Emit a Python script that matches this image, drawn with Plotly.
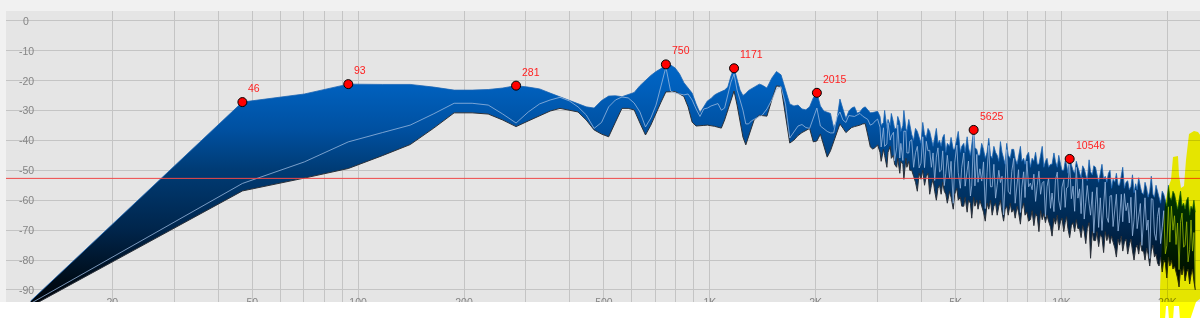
import numpy as np
import plotly.graph_objects as go

# ---------------- data ----------------
BIN_HZ = 48000 / 2048  # FFT bin width in Hz

# low / mid range: FFT bin numbers and the three curves (dB)
bins_lo = [0.5, 1, 2, 3, 4, 5, 6, 7, 8, 9, 10, 11, 12, 13, 14, 15, 16, 17, 18, 19, 20,
           21, 22, 23, 24, 25, 26, 27, 28, 29, 30, 31, 32, 33, 34, 35, 36, 37, 38, 39, 40,
           41, 42, 43, 44, 45, 46, 47, 48, 49, 50, 51, 52, 53, 54, 55, 56, 57, 58, 59, 60,
           62, 64, 66, 68, 70, 72, 74, 76, 78, 80, 82, 84, 86, 88, 90, 92, 94, 96, 98, 100,
           102, 104, 106, 108, 110, 112, 114, 116, 118, 120, 122, 124, 126, 128]
upper_lo = [-93.7, -60.4, -27.2, -24.5, -21.2, -21.3, -21.3, -22.2, -23.2, -23.2, -23.0,
            -22.5, -21.7, -22.2, -22.8, -24.2, -25.5, -26.5, -27.8, -28.8, -29.2,
            -26.7, -25.2, -25.1, -25.4, -24.8, -24.0, -21.7, -19.8, -18.3, -17.0,
            -16.0, -14.6, -14.8, -15.8, -17.8, -20.7, -22.3, -24.2, -27.8, -30.8,
            -28.8, -26.8, -26.0, -24.8, -24.2, -23.7, -23.2, -22.2, -18.5, -15.9,
            -19.8, -23.2, -25.0, -24.3, -23.3, -22.7, -22.2, -21.7, -21.2, -21.5,
            -22.5, -19.2, -17.0, -18.1, -23.2, -27.8, -28.5, -28.2, -29.5, -29.8,
            -28.8, -25.8, -24.1, -28.5, -30.2, -30.7, -31.0, -35.9, -33.2, -26.2,
            -29.8, -32.8, -30.2, -29.2, -28.8, -30.9, -30.5, -29.3, -28.8, -29.9,
            -30.8, -30.7, -30.5, -30.3]
lower_lo = [-95.5, -76.2, -56.9, -52.6, -49.4, -45.1, -41.4, -35.9, -30.8, -30.8, -31.2,
            -33.2, -35.4, -33.5, -31.9, -30.2, -29.3, -29.8, -30.5, -33.2, -36.5,
            -37.9, -38.8, -33.9, -29.3, -29.3, -29.8, -34.2, -38.2, -34.9, -30.8,
            -27.2, -23.8, -23.7, -23.7, -24.5, -25.3, -28.8, -33.9, -35.2, -35.0,
            -35.0, -34.9, -35.0, -35.3, -35.6, -35.9, -33.2, -29.8, -26.2, -23.5,
            -28.2, -34.2, -38.9, -41.5, -38.9, -35.7, -33.2, -32.4, -31.6, -31.7,
            -31.9, -26.5, -21.8, -22.0, -31.5, -40.9, -39.9, -38.4, -37.4, -36.7,
            -36.0, -40.5, -40.2, -37.9, -41.5, -45.6, -43.5, -40.5, -37.2, -34.5,
            -35.9, -37.4, -36.5, -35.7, -35.4, -35.2, -34.9, -34.5, -34.4, -38.2,
            -42.2, -42.9, -42.4, -41.5]
mid_lo = [-94.5, -74.4, -54.4, -47.2, -40.5, -37.4, -34.9, -31.1, -27.6, -27.6, -28.2,
          -31.2, -34.2, -30.5, -27.8, -26.5, -25.6, -26.8, -28.8, -31.5, -36.0,
          -34.0, -28.8, -26.5, -25.5, -25.8, -27.5, -30.5, -35.5, -32.5, -28.2,
          -21.8, -15.5, -23.5, -24.2, -24.5, -24.8, -24.5, -26.5, -29.5, -32.0,
          -29.5, -29.2, -28.5, -28.0, -27.7, -29.9, -29.2, -24.8, -20.5, -17.8,
          -23.2, -26.5, -29.9, -34.5, -34.5, -33.5, -32.9, -32.4, -32.0, -31.7,
          -29.5, -26.5, -22.8, -22.0, -27.8, -39.2, -37.2, -35.2, -34.7, -35.7,
          -36.0, -32.5, -29.2, -35.2, -36.2, -37.0, -37.5, -37.5, -32.2, -30.5,
          -33.2, -34.0, -31.7, -31.9, -32.0, -31.5, -31.0, -31.9, -32.5, -33.0,
          -34.9, -34.5, -33.5, -32.9]

# high range (dense part of the spectrum)
bins_hi = [130, 131, 133, 134, 136, 137, 139, 140, 142, 143,
           145, 146, 148, 149, 151, 152, 154, 155, 157, 158,
           160, 162, 164, 166, 168, 170, 172, 174, 176, 178,
           180, 182, 184, 186, 188, 190, 192, 194, 196, 198,
           200, 202, 205, 207, 210, 212, 215, 217, 220, 222,
           225, 227, 230, 232, 235, 237, 240, 242, 245, 247,
           250, 253, 256, 259, 262, 265, 268, 271, 274, 277,
           280, 283, 286, 289, 292, 295, 298, 301, 305, 308,
           312, 315, 319, 322, 326, 329, 333, 336, 340, 344,
           348, 352, 356, 360, 364, 368, 372, 376, 380, 384,
           388, 392, 397, 401, 406, 410, 415, 419, 424, 428,
           433, 437, 441, 445, 450, 455, 460, 465, 470, 475,
           480, 485, 490, 495, 500, 505, 511, 516, 522, 527,
           533, 538, 544, 550, 556, 562, 568, 574, 580, 586,
           592, 598, 605, 611, 618, 624, 631, 637, 644, 651,
           658, 665, 672, 679, 686, 693, 700, 707, 715, 722,
           730, 737, 745, 752, 760, 768, 776, 784, 792, 800,
           808, 816, 825, 833, 842, 850, 859, 867, 876, 885,
           894, 903, 912, 921, 930, 939, 949, 958, 968, 977,
           987, 996, 1006, 1015, 1024]
upper_hi = [-32, -35, -34, -30, -36, -33, -35, -31, -34, -36,
            -36, -32, -34, -37, -35, -30, -36, -37, -33, -35,
            -38, -40, -36, -37, -39, -41, -34, -38, -39, -36,
            -37, -40, -42, -39, -36, -41, -40, -42, -39, -38,
            -44, -41, -42, -39, -43, -43, -40, -37, -44, -42,
            -41, -44, -38.8, -42.5, -45, -42, -36.5, -42.5, -43, -45,
            -45, -41, -43, -46, -44, -39.3, -45, -46, -42, -44,
            -45, -47, -40.4, -44, -46, -48, -41, -45, -46, -43,
            -43, -46, -48, -45, -42, -47, -46, -48, -45, -44,
            -49, -46, -47, -44, -48, -48, -45, -42, -49, -47,
            -46, -49, -48, -48, -44.2, -47, -49, -45, -48, -50,
            -50, -47, -48, -51, -46.2, -48.5, -50, -51, -47, -49,
            -50.5, -52.5, -48.5, -49.5, -51.5, -53.5, -46.5, -50.5, -51.5, -48.5,
            -49, -52, -54, -51, -48, -53, -52, -54, -51, -50,
            -56, -53, -54, -51, -55, -55, -52, -49, -56, -54,
            -53.5, -56.5, -55.5, -51.5, -57.5, -54.5, -56.5, -52.5, -55.5, -57.5,
            -58, -54, -56, -59, -57, -52, -58, -59, -55, -57,
            -59, -61, -57, -58, -60, -62, -55, -59, -60, -57,
            -58, -61, -63, -60, -57, -62, -61, -63, -60, -59,
            -65, -62, -63, -60, -64]
lower_hi = [-44, -47, -43, -45, -49, -44, -42, -46, -45, -48,
            -49, -46, -51, -47, -48, -53, -46, -49, -47, -50,
            -50, -52, -54, -57, -51, -53, -50, -55, -52, -51,
            -58, -55, -53, -57, -60, -56, -55, -58, -54, -57,
            -58, -61, -57, -59, -63, -58, -56, -60, -59, -62,
            -62, -59, -64, -60, -61, -66, -59, -62, -60, -63,
            -60, -62, -64, -67, -61, -63, -60, -65, -62, -61,
            -65, -62, -60, -64, -67, -63, -62, -65, -61, -64,
            -63, -66, -62, -64, -68, -63, -61, -65, -64, -67,
            -66.5, -63.5, -68.5, -64.5, -65.5, -70.5, -63.5, -66.5, -64.5, -67.5,
            -65, -67, -69, -72, -66, -68, -65, -70, -67, -66,
            -70.5, -67.5, -65.5, -69.5, -72.5, -68.5, -67.5, -70.5, -66.5, -69.5,
            -69.5, -72.5, -68.5, -70.5, -74.5, -69.5, -67.5, -79.4, -70.5, -73.5,
            -73.5, -70.5, -75.5, -71.5, -72.5, -77.5, -70.5, -73.5, -71.5, -74.5,
            -72, -74, -76, -79, -73, -75, -72, -77, -74, -73,
            -78, -75, -73, -77, -80, -76, -75, -78, -74, -77,
            -77, -80, -76, -78, -82, -77, -75, -79, -78, -81,
            -82, -79, -84, -80, -81, -86, -79, -82, -80, -83,
            -82, -84, -86, -89, -83, -85, -82, -87, -84, -83,
            -88, -85, -83, -87, -90]
mid_hi = [-35.6, -42.2, -35.8, -42.0, -41.2, -34.1, -39.9, -38.5, -37.3, -46.8,
          -42.5, -34.8, -45.9, -41.0, -46.7, -36.9, -37.0, -44.2, -44.2, -40.3,
          -39.8, -49.0, -44.1, -42.0, -49.2, -47.6, -38.8, -49.1, -40.3, -43.5,
          -43.3, -49.0, -44.2, -53.4, -45.6, -42.5, -50.5, -50.0, -43.5, -55.1,
          -51.0, -45.0, -52.5, -47.0, -61.0, -47.5, -41.6, -50.8, -56.0, -49.0,
          -44.2, -55.3, -50.1, -46.9, -58.6, -55.2, -38.0, -55.2, -44.7, -54.0,
          -49.5, -53.6, -47.2, -62.8, -50.8, -41.7, -55.5, -55.5, -48.0, -59.3,
          -55.0, -50.0, -54.1, -52.0, -64.9, -52.5, -43.1, -57.0, -58.0, -50.4,
          -46.0, -61.0, -54.3, -49.8, -64.1, -55.8, -50.5, -59.1, -46.9, -55.5,
          -54.3, -56.5, -51.3, -60.4, -55.0, -50.3, -58.0, -54.3, -53.7, -65.5,
          -55.5, -52.6, -62.7, -57.6, -63.8, -53.3, -50.6, -60.0, -63.2, -55.6,
          -53.1, -62.4, -55.9, -55.6, -48.0, -59.5, -55.3, -63.7, -49.0, -59.3,
          -56.2, -64.5, -52.5, -66.3, -60.7, -55.1, -61.2, -65.0, -57.2, -71.0,
          -61.3, -55.7, -69.1, -59.2, -70.1, -60.4, -53.9, -65.7, -67.4, -58.6,
          -58.4, -68.8, -63.9, -58.0, -70.3, -66.0, -58.0, -67.2, -57.8, -63.5,
          -60.9, -67.6, -59.0, -71.9, -66.5, -56.7, -69.5, -65.3, -61.1, -75.1,
          -67.5, -59.2, -70.0, -66.6, -79.5, -59.5, -59.7, -71.0, -73.4, -65.4,
          -62.5, -74.5, -69.2, -63.5, -77.9, -75.2, -62.2, -74.0, -62.0, -70.0,
          -65.2, -74.8, -67.6, -83.2, -67.4, -64.3, -75.7, -75.0, -67.2, -80.6,
          -76.5, -66.6, -77.0, -70.8, -87.4]

# labelled peaks
peak_freq = [46.875, 93.75, 281.25, 750.0, 1171.875, 2015.625, 5625.0, 10546.875]
peak_db = [-27.2, -21.2, -21.7, -14.6, -15.9, -24.1, -36.5, -46.2]
peak_labels = ["46", "93", "281", "750", "1171", "2015", "5625", "10546"]

threshold_db = -52.7

# axes
y_ticks = [0, -10, -20, -30, -40, -50, -60, -70, -80, -90]
y_tick_labels = ["0", "-10", "-20", "-30", "-40", "-50", "-60", "-70", "-80", "-90"]
x_grid = [10, 20, 30, 40, 50, 60, 70, 80, 90, 100, 200, 300, 400, 500, 600, 700, 800, 900,
          1000, 2000, 3000, 4000, 5000, 6000, 7000, 8000, 9000, 10000, 20000]
x_labelled = {20: "20", 50: "50", 100: "100", 200: "200", 500: "500", 1000: "1K",
              2000: "2K", 5000: "5K", 10000: "10K", 20000: "20K"}

# ---------------- layout geometry ----------------
W, H = 1200, 318
ML, MT = 6, 11
PX_PER_DECADE = 351.7
PX_20HZ = 112.3
PX_PER_DB = 2.992
PX_0DB = 20.7
x0 = np.log10(20) - (PX_20HZ - ML) / PX_PER_DECADE
x1 = x0 + (W - ML) / PX_PER_DECADE
y_top = (PX_0DB - MT) / PX_PER_DB
y_bot = -(H - PX_0DB) / PX_PER_DB

FONT = "Liberation Sans, Arial, sans-serif"
GREY_TXT = "#858585"

freq = np.array(bins_lo + bins_hi, dtype=float) * BIN_HZ
upper = np.array(upper_lo + upper_hi)
lower = np.array(lower_lo + lower_hi)
mid = np.array(mid_lo + mid_hi)

fig = go.Figure()
fig.add_trace(go.Scatter(x=freq, y=lower, mode="lines",
                         line=dict(color="#2b3038", width=1),
                         hoverinfo="skip", showlegend=False))
fig.add_trace(go.Scatter(
    x=freq, y=upper, mode="lines", line=dict(color="#1b64b4", width=0.8),
    fill="tonexty",
    fillgradient=dict(type="vertical", start=-95, stop=-15,
                      colorscale=[[0.0, "#00040a"], [0.1, "#000c18"], [0.3125, "#00254b"],
                                  [0.5625, "#003b74"], [0.73, "#0050a0"], [0.9, "#005fbb"],
                                  [1.0, "#0066c6"]]),
    hoverinfo="skip", showlegend=False))
fig.add_trace(go.Scatter(x=freq, y=mid, mode="lines",
                         line=dict(color="#98b8de", width=0.8),
                         hoverinfo="skip", showlegend=False))
fig.add_trace(go.Scatter(x=peak_freq, y=peak_db, mode="markers",
                         marker=dict(size=9, color="#ff0000", line=dict(color="#000000", width=1)),
                         hoverinfo="skip", showlegend=False))

annotations = []
for f, d, t in zip(peak_freq, peak_db, peak_labels):
    annotations.append(dict(x=np.log10(f), y=d, xref="x", yref="y", text=t, showarrow=False,
                            xanchor="left", yanchor="middle", xshift=4, yshift=14,
                            font=dict(family=FONT, size=10.5, color="#ff1f1f")))
for v, t in zip(y_ticks, y_tick_labels):
    annotations.append(dict(x=(26.3 - ML) / (W - ML), y=v, xref="paper", yref="y", text=t,
                            showarrow=False, xanchor="center", yanchor="middle",
                            font=dict(family=FONT, size=10.5, color=GREY_TXT)))


def px_to_paper(pts):
    return [((px - ML) / (W - ML), (H - py) / (H - MT)) for px, py in pts]


def path_of(pts):
    pp = px_to_paper(pts)
    return "M " + " L ".join(f"{a:.5f},{b:.5f}" for a, b in pp) + " Z"


# highlighter scribble (decoration drawn over the chart)
scribble = [(1173, 157), (1178, 156), (1179, 175), (1181, 188), (1184, 186), (1186, 160),
            (1189, 134), (1194, 131), (1198, 132), (1201, 136), (1201, 298), (1196, 302),
            (1190, 320), (1180, 320), (1179, 306), (1174, 306), (1173, 320), (1169, 320),
            (1168, 306), (1166, 306), (1165, 320), (1160, 320), (1160, 290), (1161, 260),
            (1163, 230), (1165, 205), (1168, 188), (1171, 180)]

shapes = [
    dict(type="line", xref="paper", yref="y", x0=0, x1=1, y0=threshold_db, y1=threshold_db,
         line=dict(color="#f04848", width=1), layer="above"),
    dict(type="rect", xref="paper", yref="paper", x0=-0.02, x1=1.02, y0=-0.2,
         y1=(H - 302) / (H - MT), fillcolor="#ffffff", line=dict(width=0), layer="above"),
    dict(type="path", xref="paper", yref="paper", path=path_of(scribble),
         fillcolor="rgb(255,255,0)", line=dict(width=0), layer="above"),
]

fig.update_layout(
    width=W, height=H, margin=dict(l=ML, r=0, t=MT, b=0, pad=0),
    paper_bgcolor="#f1f1f1", plot_bgcolor="#e5e5e5",
    showlegend=False, hovermode=False,
    font=dict(family=FONT, size=10.5, color=GREY_TXT),
    annotations=annotations, shapes=shapes,
    xaxis=dict(type="log", range=[x0, x1], tickmode="array", tickvals=x_grid,
               ticktext=[x_labelled.get(v, "") for v in x_grid],
               showgrid=True, gridcolor="#c4c4c4", gridwidth=1, ticks="",
               ticklabelposition="inside", ticklabelstandoff=7,
               tickfont=dict(family=FONT, size=10.5, color=GREY_TXT),
               showline=False, zeroline=False, fixedrange=True),
    yaxis=dict(range=[y_bot, y_top], tickmode="array", tickvals=y_ticks,
               showticklabels=False, showgrid=True, gridcolor="#c4c4c4", gridwidth=1,
               ticks="", zeroline=False, showline=False, fixedrange=True),
)

post = """
var gd = document.getElementById('{plot_id}');
function blendHighlighter(){
  gd.querySelectorAll('.layer-above .shapelayer path').forEach(function(p){
    var s = (p.getAttribute('style') || '') + ' ' + (p.getAttribute('fill') || '');
    if (s.indexOf('255, 255, 0') >= 0) { p.style.mixBlendMode = 'multiply'; }
  });
}
blendHighlighter();
gd.on('plotly_afterplot', blendHighlighter);
"""

fig.write_html("out.html", config={"displayModeBar": False}, post_script=post)
